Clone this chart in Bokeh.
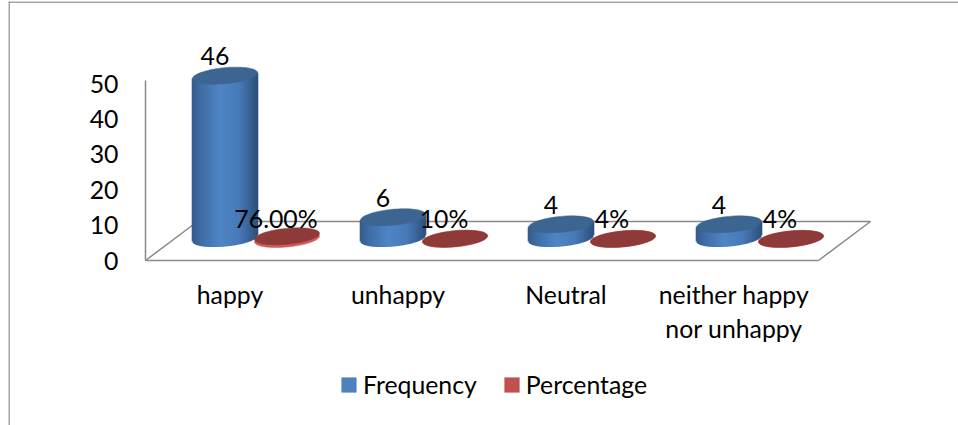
import numpy as np
from bokeh.embed import file_html
from bokeh.models import FixedTicker, Legend, LegendItem, LinearAxis, Range1d
from bokeh.plotting import figure
from bokeh.resources import INLINE

categories = ["happy", "unhappy", "Neutral", "neither happy\nnor unhappy"]
frequency = [46, 6, 4, 4]
percentage = [0.76, 0.10, 0.04, 0.04]
percentage_labels = ["76.00%", "10%", "4%", "4%"]
y_ticks = [0, 10, 20, 30, 40, 50]

FONT = "Lato"
FS = "24.8px"
GRAY = "#898989"
BLUE = "#4F81BD"
RED = "#C0504D"
BLUE_TOP = "#3D6591"
RED_TOP = "#8E3A38"

# px <-> data scale
PX_X = 168.0
PX_Y = 3.54
X0_PX = 229.5
Y0_PX = 260.0
FRAME_L, FRAME_R, FRAME_T, FRAME_B = 8.0, 958.0, 1.0, 425.0


def dx(px):
    return px / PX_X


def dy(px):
    return px / PX_Y


def xd(px):
    return (px - X0_PX) / PX_X


def yd(px):
    return (Y0_PX - px) / PX_Y


p = figure(
    width=int(FRAME_R - FRAME_L),
    height=int(FRAME_B - FRAME_T),
    output_backend="svg",
    toolbar_location=None,
    x_axis_type=None,
    y_axis_type=None,
    min_border=0,
    outline_line_color=None,
    background_fill_color="white",
    border_fill_color="white",
    x_range=Range1d(xd(FRAME_L), xd(FRAME_R)),
    y_range=Range1d(yd(FRAME_B), yd(FRAME_T)),
    margin=(1, 0, 0, 8),
)
p.grid.visible = False

# chart-area border (top and left only)
p.segment(
    [xd(FRAME_L), xd(FRAME_L + 0.5)],
    [yd(FRAME_T + 0.5), yd(FRAME_T)],
    [xd(FRAME_R), xd(FRAME_L + 0.5)],
    [yd(FRAME_T + 0.5), yd(FRAME_B)],
    line_color=GRAY,
    line_width=1.5,
)

# floor
p.line(
    [xd(145), xd(197), xd(870), xd(818)],
    [yd(260), yd(221), yd(221), yd(260)],
    line_color=GRAY,
    line_width=1.5,
)

# axes
yaxis = LinearAxis(
    ticker=FixedTicker(ticks=y_ticks),
    fixed_location=xd(145),
    bounds=(0, yd(80)),
    axis_line_color=GRAY,
    axis_line_width=1.5,
    major_tick_line_color=None,
    minor_tick_line_color=None,
    major_label_standoff=21,
    major_label_text_font=FONT,
    major_label_text_font_size=FS,
    major_label_text_color="black",
)
p.add_layout(yaxis, "left")

xaxis = LinearAxis(
    ticker=FixedTicker(ticks=list(range(len(categories)))),
    major_label_overrides={i: c for i, c in enumerate(categories)},
    fixed_location=0,
    bounds=(xd(145), xd(818)),
    axis_line_color=GRAY,
    axis_line_width=1.5,
    major_tick_line_color=None,
    minor_tick_line_color=None,
    major_label_standoff=13,
    major_label_text_font=FONT,
    major_label_text_font_size=FS,
    major_label_text_color="black",
)
p.add_layout(xaxis, "below")

# cylinder geometry
A = 32.5
B = 8.0
S = 0.09
BASE = dy(22)
BLUE_OFF = dx(-5)
RED_OFF = dx(57)
t = np.linspace(-1, 1, 66)
stops_t = [-1.0, -0.75, -0.15, 0.45, 0.85, 1.0]
stops_r = [0x35, 0x40, 0x50, 0x48, 0x35, 0x2E]
stops_g = [0x5C, 0x6C, 0x86, 0x7A, 0x5C, 0x52]
stops_b = [0x8C, 0xA4, 0xC6, 0xB8, 0x8C, 0x7E]
strip_colors = [
    "#%02x%02x%02x" % (int(np.interp(v, stops_t, stops_r)),
                        int(np.interp(v, stops_t, stops_g)),
                        int(np.interp(v, stops_t, stops_b)))
    for v in t
]


def outline(cx, cy):
    th = np.linspace(0, 2 * np.pi, 72)
    xs = A * np.cos(th)
    ys = S * xs + B * np.sin(th)
    return list(cx + dx(1) * xs), list(cy + dy(1) * ys)


def strips(cx, val):
    x = cx + dx(A) * t
    half = B * np.sqrt(np.clip(1 - t ** 2, 0, 1))
    y0 = BASE + dy(1) * (S * A * t - half)
    y1 = BASE + val + dy(1) * (S * A * t)
    return list(x), list(y0), list(y1)


p_blue_top_x, p_blue_top_y = [], []
for i, v in enumerate(frequency):
    cx = i + BLUE_OFF
    x, y0, y1 = strips(cx, v)
    p.segment(x, y0, x, y1, line_color=strip_colors, line_width=1.6)
    xs, ys = outline(cx, BASE + v)
    p_blue_top_x.append(xs)
    p_blue_top_y.append(ys)
p.patches(p_blue_top_x, p_blue_top_y, fill_color=BLUE_TOP, line_color=BLUE_TOP, line_width=0.5)

red_rim_x, red_rim_y, red_top_x, red_top_y = [], [], [], []
for i, v in enumerate(percentage):
    cx = i + RED_OFF
    xs, ys = outline(cx, BASE - dy(0.5))
    red_rim_x.append(xs)
    red_rim_y.append(ys)
    xs, ys = outline(cx, BASE - dy(0.5) + v)
    red_top_x.append(xs)
    red_top_y.append(ys)
p.patches(red_rim_x, red_rim_y, fill_color="#D05A57", line_color="#D05A57", line_width=0.5)
p.patches(red_top_x, red_top_y, fill_color=RED_TOP, line_color=RED_TOP, line_width=0.5)

# data labels
p.text(
    [i + BLUE_OFF - dx(10) for i in range(len(frequency))],
    [BASE + v + dy(19.5) for v in frequency],
    text=[str(v) for v in frequency],
    text_font={"value": FONT},
    text_font_size={"value": FS},
    text_color="black",
    text_align="center",
    text_baseline="middle",
)
p.text(
    [i + RED_OFF - dx(11) for i in range(len(percentage))],
    [yd(217.5) for _ in percentage],
    text=percentage_labels,
    text_font={"value": FONT},
    text_font_size={"value": FS},
    text_color="black",
    text_align="center",
    text_baseline="middle",
)

# legend (swatches use an off-range entry: only the legend shows them)
off_x = xd(FRAME_R) + 10
off_y = yd(FRAME_T) + 10
r1 = p.quad(left=[off_x], right=[off_x + 1], top=[off_y + 1], bottom=[off_y], fill_color=BLUE, line_color=None)
r2 = p.quad(left=[off_x], right=[off_x + 1], top=[off_y + 1], bottom=[off_y], fill_color=RED, line_color=None)
legend = Legend(
    items=[LegendItem(label="Frequency", renderers=[r1]), LegendItem(label="Percentage", renderers=[r2])],
    orientation="horizontal",
    location=(331, 26),
    glyph_width=19,
    glyph_height=19,
    label_standoff=5,
    spacing=25,
    padding=0,
    margin=0,
    background_fill_alpha=0,
    border_line_color=None,
    label_text_font=FONT,
    label_text_font_size=FS,
    label_text_color="black",
)
p.add_layout(legend, "center")

open("out.html", "w").write(file_html(p, INLINE))
